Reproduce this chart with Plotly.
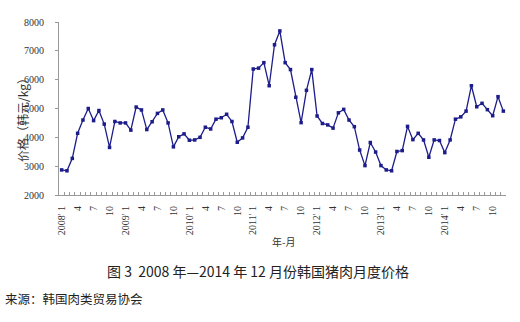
import plotly.graph_objects as go

years = [2008, 2009, 2010, 2011, 2012, 2013, 2014]
months = [f"{y}-{m:02d}" for y in years for m in range(1, 13)]

prices = [
    2870, 2840, 3270, 4140, 4600, 5000, 4580, 4930, 4460, 3650, 4550, 4500,
    4500, 4250, 5050, 4950, 4270, 4540, 4830, 4950, 4500, 3670, 4020, 4120,
    3900, 3910, 4000, 4350, 4290, 4630, 4680, 4800, 4550, 3830, 3980, 4350,
    6370, 6400, 6590, 5790, 7210, 7690, 6590, 6350, 5390, 4510, 5630, 6350,
    4740, 4480, 4430, 4320, 4850, 4970, 4600, 4370, 3560, 3020, 3820, 3490,
    3020, 2870, 2840, 3510, 3540, 4380, 3920, 4140, 3910, 3310, 3910, 3890,
    3470, 3910, 4630, 4710, 4910, 5790, 5060, 5180, 4960, 4750, 5410, 4910,
]

tick_labels = []
for mstr in months:
    y, m = mstr.split("-")
    m = int(m)
    if m == 1:
        tick_labels.append(f"{y}' 1")
    elif m in (4, 7, 10):
        tick_labels.append(str(m))
    else:
        tick_labels.append("")

y_title = "价格（韩元/kg）"
x_title = "年-月"
caption = "图 3  2008 年—2014 年 12 月份韩国猪肉月度价格"
source = "来源：韩国肉类贸易协会"

fig = go.Figure()
fig.add_trace(go.Scatter(
    x=months, y=prices, mode="lines+markers",
    line=dict(color="#1c1c8a", width=1.3),
    marker=dict(symbol="square", size=3.5, color="#1c1c8a"),
    showlegend=False,
))

L, R, T, B = 59, 14, 22, 127
W, H = 520, 322
pw, ph = W - L - R, H - T - B

def px_x(x):
    return (x - L) / pw

def px_y(y):
    return (H - B - y) / ph

fig.update_layout(
    width=W, height=H,
    margin=dict(l=L, r=R, t=T, b=B),
    paper_bgcolor="white", plot_bgcolor="white",
    font=dict(family="Liberation Serif", size=10, color="#333"),
    xaxis=dict(
        type="category", range=[-0.5, len(months) - 0.5],
        tickmode="array", tickvals=months, ticktext=tick_labels,
        tickangle=-90, tickson="boundaries", ticks="inside", ticklen=3,
        tickcolor="#999", showline=True, linecolor="#999", linewidth=1,
        showgrid=False, zeroline=False, ticklabelstandoff=6,
        tickfont=dict(family="Liberation Serif", size=10, color="#333"),
    ),
    yaxis=dict(
        range=[2000, 8000], dtick=1000, tick0=2000,
        ticks="outside", ticklen=3, tickcolor="#999",
        showline=True, linecolor="#999", linewidth=1,
        showgrid=False, zeroline=False, ticklabelstandoff=9,
        tickfont=dict(family="Liberation Serif", size=10, color="#333"),
    ),
    annotations=[
        dict(text=y_title, xref="paper", yref="paper", x=px_x(22), y=px_y(117),
             xanchor="center", yanchor="middle",
             textangle=-90, showarrow=False,
             font=dict(family="Noto Sans CJK SC", size=12, color="#333")),
        dict(text=x_title, xref="paper", yref="paper", x=px_x(283), y=px_y(241),
             xanchor="center", yanchor="middle", showarrow=False,
             font=dict(family="Noto Sans CJK SC", size=10, color="#333")),
        dict(text=caption, xref="paper", yref="paper", x=px_x(258), y=px_y(271),
             xanchor="center", yanchor="middle", showarrow=False,
             font=dict(family="Noto Sans CJK SC", size=14, color="#222")),
        dict(text=source, xref="paper", yref="paper", x=px_x(3), y=px_y(298),
             xanchor="left", yanchor="middle", showarrow=False,
             font=dict(family="Noto Sans CJK SC", size=12.5, color="#222")),
    ],
)

fig.write_html("out.html")
